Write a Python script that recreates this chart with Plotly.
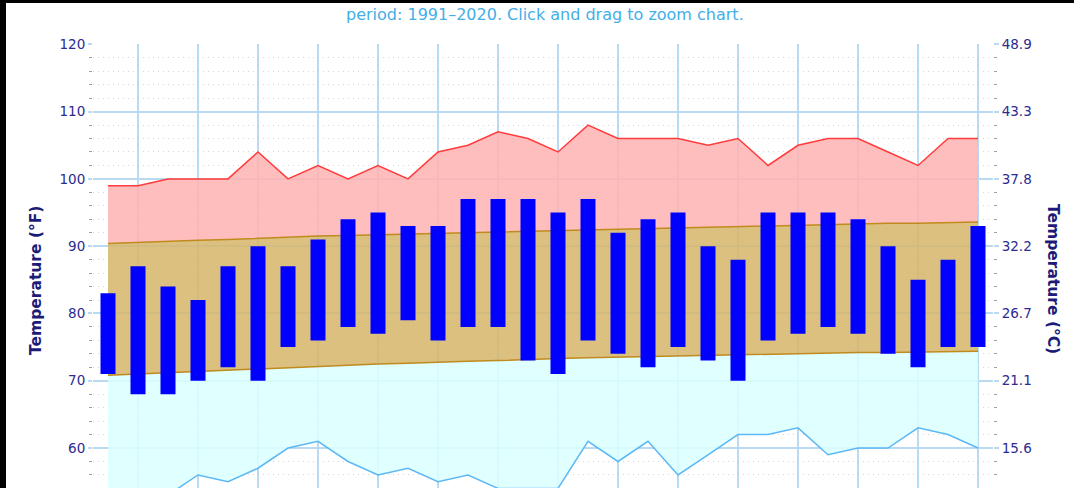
import plotly.graph_objects as go

# ---- data (°F), days of the month ----
days = list(range(1, 31))
record_high = [99, 99, 100, 100, 100, 104, 100, 102, 100, 102, 100, 104, 105, 107, 106,
               104, 108, 106, 106, 106, 105, 106, 102, 105, 106, 106, 104, 102, 106, 106]
normal_high = [90.4, 90.6, 90.7, 90.9, 91.0, 91.2, 91.3, 91.5, 91.6, 91.7, 91.9, 92.0, 92.1, 92.2, 92.3,
               92.4, 92.5, 92.6, 92.7, 92.8, 92.9, 93.0, 93.1, 93.1, 93.2, 93.3, 93.4, 93.4, 93.5, 93.6]
normal_low = [70.8, 71.0, 71.2, 71.3, 71.5, 71.7, 71.9, 72.1, 72.3, 72.5, 72.6, 72.8, 72.9, 73.0, 73.2,
              73.3, 73.4, 73.5, 73.6, 73.7, 73.8, 73.9, 74.0, 74.0, 74.1, 74.2, 74.2, 74.3, 74.3, 74.4]
record_low = [50, 51, 53, 56, 55, 57, 60, 61, 58, 56, 57, 55, 56, 54, 54,
              54, 61, 58, 61, 56, 59, 62, 62, 63, 59, 60, 60, 63, 62, 60]
obs_high = [83, 87, 84, 82, 87, 90, 87, 91, 94, 95, 93, 93, 97, 97, 97,
            95, 97, 92, 94, 95, 90, 88, 95, 95, 95, 94, 90, 85, 88, 93]
obs_low = [71, 68, 68, 70, 72, 70, 75, 76, 78, 77, 79, 76, 78, 78, 73,
           71, 76, 74, 72, 75, 73, 70, 76, 77, 78, 77, 74, 72, 75, 75]

f_ticks = [60, 70, 80, 90, 100, 110, 120]
f_minor_ticks = [56, 58, 62, 64, 66, 68, 72, 74, 76, 78, 82, 84, 86, 88,
                 92, 94, 96, 98, 102, 104, 106, 108, 112, 114, 116, 118]
c_tick_labels = ["15.6", "21.1", "26.7", "32.2", "37.8", "43.3", "48.9"]
x_grid_days = list(range(2, 31, 2))

subtitle = "period: 1991\u20132020. Click and drag to zoom chart."
left_title = "Temperature (°F)"
right_title = "Temperature (°C)"

# ---- styling ----
F_RANGE = [54.06, 120.05]
def f2c(v):
    return (v - 32) * 5 / 9

FONT = "DejaVu Sans"
TICK_COLOR = "#2b2b92"
TITLE_COLOR = "#1c1c78"
GRID_BLUE = "rgb(186,218,242)"
MINOR_GRAY = "rgb(212,212,212)"

L, R, T, B = 93, 993, 44, 488
W, H = 1074, 488

fig = go.Figure()

fig.add_trace(go.Scatter(x=days, y=record_low, mode="lines",
                         line=dict(color="#5cb8f5", width=1.5),
                         hoverinfo="skip", showlegend=False))
fig.add_trace(go.Scatter(x=days, y=normal_low, mode="lines", fill="tonexty",
                         fillcolor="rgba(219,255,255,0.85)",
                         line=dict(color="#c08a1e", width=1.5),
                         hoverinfo="skip", showlegend=False))
fig.add_trace(go.Scatter(x=days, y=normal_high, mode="lines", fill="tonexty",
                         fillcolor="rgba(214,181,106,0.85)",
                         line=dict(color="#c08a1e", width=1.5),
                         hoverinfo="skip", showlegend=False))
fig.add_trace(go.Scatter(x=days, y=record_high, mode="lines", fill="tonexty",
                         fillcolor="rgba(255,179,179,0.85)",
                         line=dict(color="#ff3b3b", width=1.5),
                         hoverinfo="skip", showlegend=False))

# observed daily range bars on an overlay axis so they sit above the fills
fig.add_trace(go.Bar(x=days, y=[h - l for h, l in zip(obs_high, obs_low)], base=obs_low,
                     width=0.5, marker=dict(color="#0000ff", line=dict(width=0)),
                     yaxis="y3", hoverinfo="skip", showlegend=False))

# invisible trace binding the °C axis
fig.add_trace(go.Scatter(x=[days[0]], y=[f2c(record_high[0])], mode="markers",
                         marker=dict(opacity=0), yaxis="y2",
                         hoverinfo="skip", showlegend=False))

fig.update_layout(
    width=W, height=H,
    margin=dict(l=L, r=W - R, t=T, b=H - B, pad=0),
    paper_bgcolor="white", plot_bgcolor="white",
    font=dict(family=FONT, size=13, color=TICK_COLOR),
    showlegend=False,
    bargap=0.5,
    xaxis=dict(range=[0.5, 30.5], tickmode="array", tickvals=x_grid_days,
               showticklabels=False, ticks="", showgrid=True,
               gridcolor=GRID_BLUE, gridwidth=1.5, zeroline=False, showline=False),
    yaxis=dict(range=F_RANGE, tickmode="array", tickvals=f_ticks,
               ticks="outside", ticklen=4, tickcolor=GRID_BLUE, tickwidth=1.5,
               showgrid=True, gridcolor=GRID_BLUE, gridwidth=1.5,
               zeroline=False, showline=False,
               tickfont=dict(family=FONT, size=13.5, color=TICK_COLOR),
               minor=dict(tickmode="array", tickvals=f_minor_ticks,
                          ticks="outside", ticklen=3, tickcolor="#a0a0a0", tickwidth=1,
                          showgrid=True, gridcolor=MINOR_GRAY, griddash="1px,4px", gridwidth=1)),
    yaxis2=dict(range=[f2c(F_RANGE[0]), f2c(F_RANGE[1])], overlaying="y", side="right",
                tickmode="array", tickvals=[f2c(v) for v in f_ticks], ticktext=c_tick_labels,
                ticks="outside", ticklen=5, tickcolor=GRID_BLUE, tickwidth=1.5,
                showgrid=False, zeroline=False, showline=False,
                tickfont=dict(family=FONT, size=13.5, color=TICK_COLOR),
                minor=dict(tickmode="array", tickvals=[f2c(v) for v in f_minor_ticks],
                           ticks="outside", ticklen=3, tickcolor="#a0a0a0", tickwidth=1,
                           showgrid=False)),
    yaxis3=dict(range=F_RANGE, overlaying="y", visible=False, showgrid=False),
)

def px_x(px):
    return (px - L) / (R - L)

def px_y(py):
    return (B - py) / (B - T)

fig.add_annotation(text=subtitle, xref="paper", yref="paper",
                   x=px_x(545), y=px_y(14), xanchor="center", yanchor="middle",
                   showarrow=False, font=dict(family=FONT, size=16, color="#45aee6"))
fig.add_annotation(text="<b>" + left_title + "</b>", xref="paper", yref="paper",
                   x=px_x(36), y=px_y(280), xanchor="center", yanchor="middle",
                   textangle=-90, showarrow=False,
                   font=dict(family=FONT, size=15.5, color=TITLE_COLOR))
fig.add_annotation(text="<b>" + right_title + "</b>", xref="paper", yref="paper",
                   x=px_x(1053), y=px_y(279), xanchor="center", yanchor="middle",
                   textangle=90, showarrow=False,
                   font=dict(family=FONT, size=15.5, color=TITLE_COLOR))

# black frame edges visible in the screenshot (top and left)
fig.add_shape(type="rect", xref="paper", yref="paper",
              x0=px_x(0), x1=px_x(W), y0=px_y(3), y1=px_y(0),
              fillcolor="black", line=dict(width=0), layer="above")
fig.add_shape(type="rect", xref="paper", yref="paper",
              x0=px_x(0), x1=px_x(6), y0=px_y(H), y1=px_y(0),
              fillcolor="black", line=dict(width=0), layer="above")

fig.write_html("out.html", include_plotlyjs=True, full_html=True,
               config={"displayModeBar": False},
               post_script="document.body.style.margin='0';document.body.style.overflow='hidden';")
